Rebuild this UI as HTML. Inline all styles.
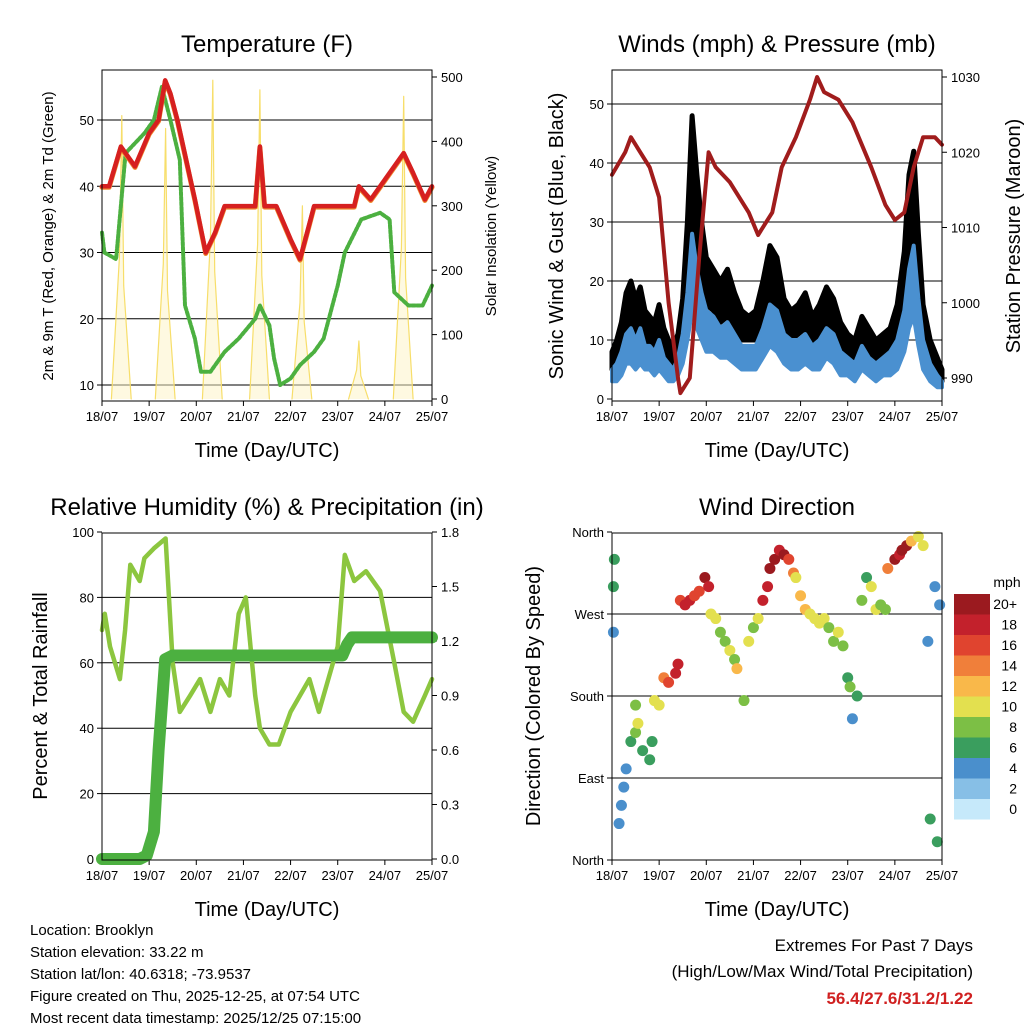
<!DOCTYPE html>
<html><head><meta charset="utf-8"><style>
html,body{margin:0;padding:0;background:#fff}
svg{display:block;font-family:"Liberation Sans",sans-serif}
</style></head><body>
<svg id="c" width="1024" height="1024" viewBox="0 0 1024 1024"></svg>
<script>
// ---------- DATA ----------
const dayLabels=["18/07","19/07","20/07","21/07","22/07","23/07","24/07","25/07"];
const tempT=[0,0.15,0.4,0.7,1.0,1.2,1.34,1.45,1.6,1.97,2.2,2.4,2.6,3.0,3.25,3.35,3.45,3.7,4.0,4.2,4.35,4.5,4.9,5.35,5.45,5.7,6.0,6.4,6.6,6.85,7.0];
const tempV=[40,40,46,43,48,50,56,54,50,38,30,33,37,37,37,46,37,37,32,29,33,37,37,37,40,38,41,45,42,38,40];
const dewT=[0,0.05,0.3,0.5,0.9,1.1,1.27,1.45,1.65,1.76,1.97,2.1,2.3,2.6,2.9,3.25,3.35,3.55,3.65,3.78,4.0,4.2,4.5,4.7,5.0,5.15,5.5,5.9,6.1,6.2,6.5,6.8,7.0];
const dewV=[33,30,29,45,48,50,55,50,44,22,17,12,12,15,17,20,22,19,14,10,11,13,15,17,25,30,35,36,35,24,22,22,25];
const solarT=[0.42,1.35,2.35,3.35,4.25,5.45,6.4];
const solarV=[440,420,495,480,300,90,470];
const windT=[0,0.1,0.2,0.3,0.4,0.5,0.6,0.7,0.8,0.9,1.0,1.1,1.2,1.3,1.4,1.5,1.6,1.7,1.8,1.9,2.0,2.15,2.3,2.45,2.6,2.75,2.9,3.05,3.2,3.35,3.5,3.65,3.8,3.95,4.1,4.25,4.4,4.55,4.7,4.85,5.0,5.15,5.3,5.45,5.6,5.75,5.9,6.05,6.2,6.3,6.4,6.5,6.6,6.75,6.9,7.0];
const gustV=[8,10,13,18,20,17,19,15,14,13,16,12,10,9,11,17,30,48,38,30,24,22,20,22,18,15,14,15,20,26,24,17,15,16,18,14,16,19,17,13,11,10,14,12,10,11,12,16,25,38,42,28,16,10,7,5];
const gustLo=[5,6,8,10,12,11,12,10,9,9,10,8,7,6,7,11,16,25,22,18,16,15,13,14,12,10,10,10,13,16,15,11,10,11,12,9,10,12,11,9,7,7,9,8,6,7,8,10,15,22,25,17,11,6,4,3];
const sonicV=[5,6,8,11,12,10,12,9,9,8,10,7,6,5,7,11,18,28,22,18,15,14,12,13,11,9,9,9,12,16,15,11,10,10,11,9,10,12,11,8,7,6,9,7,6,7,8,10,15,22,26,17,10,6,4,3];
const sonicLo=[3,3,4,6,6,5,6,5,5,4,5,4,3,3,4,6,10,15,12,10,8,8,7,7,6,5,5,5,7,9,8,6,5,5,6,5,5,7,6,4,4,3,5,4,3,4,4,5,8,12,14,9,5,3,2,2];
const presT=[0,0.28,0.4,0.6,0.8,1.0,1.2,1.4,1.45,1.65,1.85,2.05,2.2,2.5,2.9,3.1,3.4,3.6,3.9,4.2,4.35,4.5,4.8,5.1,5.5,5.8,6.0,6.2,6.4,6.6,6.85,7.0];
const presV=[1017,1020,1022,1020,1018,1014,1000,990,988,990,1006,1020,1018,1016,1012,1009,1012,1018,1022,1027,1030,1028,1027,1024,1018,1013,1011,1012,1018,1022,1022,1021];
const rhT=[0,0.06,0.17,0.38,0.49,0.6,0.8,0.9,1.1,1.35,1.5,1.65,1.87,2.08,2.3,2.5,2.7,2.9,3.05,3.25,3.35,3.55,3.75,4.0,4.2,4.4,4.6,5.0,5.15,5.35,5.6,5.9,6.2,6.4,6.6,6.85,7.0];
const rhV=[70,75,65,55,70,90,85,92,95,98,60,45,50,55,45,55,50,75,80,50,40,35,35,45,50,55,45,65,93,85,88,82,60,45,42,50,55];
const rainT=[0,0.8,0.95,1.1,1.2,1.34,1.5,3.0,5.1,5.2,5.3,7.0];
const rainV=[0,0,0.02,0.15,0.6,1.1,1.12,1.12,1.12,1.18,1.22,1.22];
const dirT=[0.03,0.03,0.05,0.15,0.2,0.25,0.3,0.4,0.5,0.5,0.55,0.65,0.8,0.85,0.9,1.0,1.1,1.2,1.35,1.4,1.45,1.55,1.65,1.75,1.85,1.97,2.05,2.1,2.2,2.3,2.4,2.5,2.6,2.65,2.8,2.9,3.0,3.1,3.2,3.3,3.35,3.45,3.55,3.65,3.75,3.85,3.9,4.0,4.1,4.2,4.3,4.4,4.5,4.6,4.7,4.8,4.9,5.0,5.05,5.1,5.2,5.3,5.4,5.5,5.6,5.7,5.8,5.85,6.0,6.1,6.15,6.25,6.35,6.5,6.6,6.7,6.75,6.85,6.9,6.95];
const dirV=[300,250,330,40,60,80,100,130,170,140,150,120,110,130,175,170,200,195,205,215,285,280,285,290,295,310,300,270,265,250,240,230,220,210,175,240,255,265,285,300,320,330,340,335,330,315,310,290,275,270,265,260,265,255,240,250,235,200,190,155,180,285,310,300,275,280,275,320,330,335,340,345,350,355,345,240,45,300,20,280];
const dirS=[6,4,6,3,4,4,4,6,8,8,9,6,6,6,9,10,14,16,18,17,16,18,18,16,16,20,18,10,9,8,8,10,8,12,8,10,8,10,18,18,20,20,18,20,16,14,10,12,12,10,10,10,10,8,8,9,8,6,8,4,5,8,6,10,10,8,8,14,20,18,20,20,12,10,10,4,6,4,6,4];
const cbLabels=["0","2","4","6","8","10","12","14","16","18","20+"];
const cbColors=["#c6e9fa","#87bfe6","#4a8fcc","#3a9e5e","#7cbf45","#e3e04f","#f9b84a","#f07f3a","#e0442f","#c3212c","#9b1a1f"];

// ---------- DRAW ----------
const svg=document.getElementById('c');const NS="http://www.w3.org/2000/svg";
function el(tag,attrs,parent,text){const e=document.createElementNS(NS,tag);for(const k in attrs)e.setAttribute(k,attrs[k]);if(text!==undefined)e.textContent=text;(parent||svg).appendChild(e);return e;}
function txt(x,y,s,size,anchor,rot,name,color,weight){const a={x:x,y:y,'font-size':size,'text-anchor':anchor||'middle',fill:color||'#000'};if(weight)a['font-weight']=weight;if(rot)a.transform=`rotate(${rot} ${x} ${y})`;const t=el('text',a,svg,s);return t;}
function line(x1,y1,x2,y2,name,w){const l=el('line',{x1,y1,x2,y2,stroke:'#000','stroke-width':w||1});return l;}
function poly(pts,color,w,name){const p=el('polyline',{points:pts.map(q=>q[0].toFixed(1)+','+q[1].toFixed(1)).join(' '),fill:'none',stroke:color,'stroke-width':w,'stroke-linejoin':'round','stroke-linecap':'round'});return p;}
function band(up,lo,color,w,name){const pts=up.concat(lo.slice().reverse());const b=el('polygon',{points:pts.map(q=>q[0].toFixed(1)+','+q[1].toFixed(1)).join(' '),fill:color,stroke:color,'stroke-width':w,'stroke-linejoin':'round'});return b;}

function panel(o){
  const X=d=>o.x0+d*(o.x1-o.x0)/7;
  const Y=v=>o.yb+(v-o.lmin)*(o.yt-o.yb)/(o.lmax-o.lmin);
  const Y2=v=>o.yb2+(v-o.rmin)*(o.yt2-o.yb2)/(o.rmax-o.rmin);
  const g=el('rect',{x:o.x0,y:o.top,width:o.x1-o.x0,height:o.bot-o.top,fill:'#fff'});
  
  o.lticks.forEach((t,i)=>{const y=Y(t);if(o.grid.includes(i))line(o.x0,y,o.x1,y,o.name+'-gridline');line(o.x0-5,y,o.x0,y,o.name+'-left-tick');txt(o.x0-8,y+5,o.llab?o.llab[i]:t,13,'end',0,o.name+'-left-tick-label');});
  if(o.rticks)o.rticks.forEach(t=>{const y=Y2(t);line(o.x1,y,o.x1+5,y,o.name+'-right-tick');txt(o.x1+9,y+5,o.rfmt?o.rfmt(t):t,13,'start',0,o.name+'-right-tick-label');});
  dayLabels.forEach((s,i)=>{line(X(i),o.bot,X(i),o.bot+5,o.name+'-x-tick');txt(X(i),o.bot+20,s,13,'middle',0,o.name+'-x-tick-label');});
  txt((o.x0+o.x1)/2,o.bot+56,'Time (Day/UTC)',20,'middle',0,o.name+'-x-axis-title');
  txt((o.x0+o.x1)/2,o.top-18,o.title,24,'middle',0,o.name+'-title');
  return {X,Y,Y2,o};
}
function frame(o){const r=el('rect',{x:o.x0,y:o.top,width:o.x1-o.x0,height:o.bot-o.top,fill:'none',stroke:'#000','stroke-width':1});}

// Panel 1 Temperature
let P=panel({name:'temperature',title:'Temperature (F)',x0:102,x1:432,top:70,bot:401,lmin:10,lmax:50,yb:385,yt:120,lticks:[10,20,30,40,50],grid:[0,1,2,3,4],rmin:0,rmax:500,yb2:399,yt2:77,rticks:[0,100,200,300,400,500]});
solarT.forEach((t,i)=>{const pts=[[P.X(t-0.22),P.Y2(0)],[P.X(t-0.05),P.Y2(solarV[i]*0.5)],[P.X(t),P.Y2(solarV[i])],[P.X(t+0.04),P.Y2(solarV[i]*0.4)],[P.X(t+0.2),P.Y2(0)]];const p=poly(pts,'#f7de6a',1.2,'solar-insolation-line');p.setAttribute('fill','#fdf3c4');p.setAttribute('fill-opacity','0.5');});
poly(dewT.map((t,i)=>[P.X(t),P.Y(dewV[i])]),'#4cb040',4,'dewpoint-2m-line').setAttribute('stroke-dasharray','3 2');
poly(tempT.map((t,i)=>[P.X(t),P.Y(tempV[i])+1]),'#f08a30',5,'temperature-9m-line');
poly(tempT.map((t,i)=>[P.X(t),P.Y(tempV[i])]),'#d62020',4.5,'temperature-2m-line');
frame(P.o);
txt(53,236,'2m & 9m T (Red, Orange) & 2m Td (Green)',15,'middle',-90,'temperature-left-axis-title');
txt(496,236,'Solar Insolation (Yellow)',15,'middle',-90,'temperature-right-axis-title');

// Panel 2 Winds
P=panel({name:'winds',title:'Winds (mph) & Pressure (mb)',x0:612,x1:942,top:70,bot:401,lmin:0,lmax:50,yb:399,yt:104,lticks:[0,10,20,30,40,50],grid:[1,2,3,4,5],rmin:990,rmax:1030,yb2:378,yt2:77,rticks:[990,1000,1010,1020,1030]});
band(windT.map((t,i)=>[P.X(t),P.Y(gustV[i])]),windT.map((t,i)=>[P.X(t),P.Y(gustLo[i])]),'#000',5,'gust-series');
band(windT.map((t,i)=>[P.X(t),P.Y(sonicV[i])]),windT.map((t,i)=>[P.X(t),P.Y(sonicLo[i])]),'#4a90d0',4,'sonic-wind-series');
poly(presT.map((t,i)=>[P.X(t),P.Y2(presV[i])]),'#a01c1c',4,'pressure-line');
frame(P.o);
txt(563,236,'Sonic Wind & Gust (Blue, Black)',20,'middle',-90,'winds-left-axis-title');
txt(1020,236,'Station Pressure (Maroon)',20,'middle',-90,'winds-right-axis-title');

// Panel 3 RH
P=panel({name:'humidity',title:'Relative Humidity (%) & Precipitation (in)',x0:102,x1:432,top:533,bot:860,lmin:0,lmax:100,yb:859,yt:532,lticks:[0,20,40,60,80,100],grid:[1,2,3,4],rmin:0,rmax:1.8,yb2:859,yt2:532,rticks:[0,0.3,0.6,0.9,1.2,1.5,1.8],rfmt:v=>v.toFixed(1)});
poly(rhT.map((t,i)=>[P.X(t),P.Y(rhV[i])]),'#8cc63f',4.5,'relative-humidity-line');
poly(rainT.map((t,i)=>[P.X(t),P.Y2(rainV[i])]),'#4cb040',12,'precipitation-line');
frame(P.o);
txt(47,696,'Percent & Total Rainfall',20,'middle',-90,'humidity-left-axis-title');

// Panel 4 Wind direction
P=panel({name:'wind-direction',title:'Wind Direction',x0:612,x1:942,top:533,bot:860,lmin:0,lmax:360,yb:860,yt:532,lticks:[0,90,180,270,360],llab:['North','East','South','West','North'],grid:[1,2,3]});
const cIdx=s=>Math.min(10,Math.max(0,Math.round(s/2)));
dirT.forEach((t,i)=>{const c=el('circle',{cx:P.X(t),cy:P.Y(dirV[i]),r:5.5,fill:cbColors[cIdx(dirS[i])]});});
frame(P.o);
txt(540,696,'Direction (Colored By Speed)',20,'middle',-90,'wind-direction-axis-title');
cbColors.forEach((c,i)=>{const y=799-i*20.5;const r=el('rect',{x:954,y:y,width:36,height:20.5,fill:c});txt(1017,y+15,cbLabels[i],14,'end',0,'colorbar-label');});
txt(1007,587,'mph',14,'middle',0,'colorbar-unit');

// Footer text
["Location: Brooklyn","Station elevation: 33.22 m","Station lat/lon: 40.6318; -73.9537","Figure created on Thu, 2025-12-25, at 07:54 UTC","Most recent data timestamp: 2025/12/25 07:15:00"].forEach((s,i)=>txt(30,935+i*22,s,15,'start',0,'station-info-line'));
txt(973,951,'Extremes For Past 7 Days',17,'end',0,'extremes-title');
txt(973,977,'(High/Low/Max Wind/Total Precipitation)',17,'end',0,'extremes-subtitle');
txt(973,1004,'56.4/27.6/31.2/1.22',17,'end',0,'extremes-values','#d02020','bold');
</script>
</body></html>
